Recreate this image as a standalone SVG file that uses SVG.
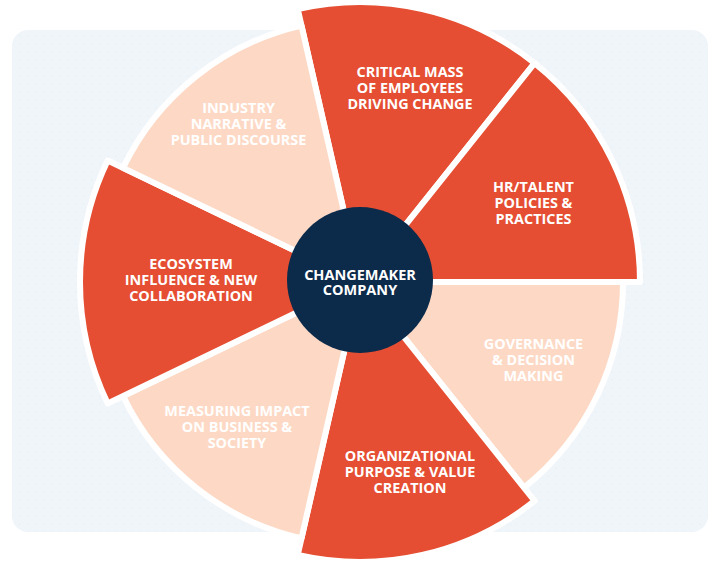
<svg xmlns="http://www.w3.org/2000/svg" width="720" height="563" viewBox="0 0 720 563">
<defs>
<pattern id="dots" width="8" height="8" patternUnits="userSpaceOnUse">
<circle cx="4" cy="4" r="0.7" fill="#e4ecf4"/>
</pattern>
<style>
.dark{fill:#e54e32;stroke:#ffffff;stroke-width:6;stroke-linejoin:round}
.light{fill:#fdd9c5;stroke:#ffffff;stroke-width:6;stroke-linejoin:round}
.lbl{font-family:"Open Sans","Noto Sans","DejaVu Sans",sans-serif;font-weight:700;font-size:14.4px;fill:#ffffff;text-anchor:middle}
.ctr{font-family:"Open Sans","Noto Sans","DejaVu Sans",sans-serif;font-weight:700;font-size:14.5px;fill:#ffffff;text-anchor:middle}
</style>
</defs>
<rect x="12" y="30" width="696" height="502" rx="16" fill="#f0f5fa"/>
<rect x="12" y="30" width="696" height="502" rx="16" fill="url(#dots)"/>
<g id="wedges">
<g id="critical-mass">
<path class="dark" d="M360,282 L297.69,9.02 A280,280 0 0 1 534.58,63.09 Z"/>
<text class="lbl"><tspan x="410" y="77">CRITICAL MASS</tspan><tspan x="410" y="93">OF EMPLOYEES</tspan><tspan x="410" y="109">DRIVING CHANGE</tspan></text>
</g>
<g id="hr-talent">
<path class="dark" d="M360,282 L534.58,63.09 A280,280 0 0 1 640,282 Z"/>
<text class="lbl"><tspan x="533.5" y="192">HR/TALENT</tspan><tspan x="533.5" y="208">POLICIES &amp;</tspan><tspan x="533.5" y="224">PRACTICES</tspan></text>
</g>
<g id="governance">
<path class="light" d="M360,282 L623,282 A263,263 0 0 1 523.98,487.62 Z"/>
<text class="lbl"><tspan x="533.5" y="349">GOVERNANCE</tspan><tspan x="533.5" y="365">&amp; DECISION</tspan><tspan x="533.5" y="381">MAKING</tspan></text>
</g>
<g id="organizational-purpose">
<path class="dark" d="M360,282 L534.58,500.91 A280,280 0 0 1 297.69,554.98 Z"/>
<text class="lbl"><tspan x="410" y="461">ORGANIZATIONAL</tspan><tspan x="410" y="477">PURPOSE &amp; VALUE</tspan><tspan x="410" y="493">CREATION</tspan></text>
</g>
<g id="measuring-impact">
<path class="light" d="M360,282 L301.48,538.41 A263,263 0 0 1 123.04,396.11 Z"/>
<text class="lbl"><tspan x="237" y="416">MEASURING IMPACT</tspan><tspan x="237" y="432">ON BUSINESS &amp;</tspan><tspan x="237" y="448">SOCIETY</tspan></text>
</g>
<g id="ecosystem">
<path class="dark" d="M360,282 L107.73,403.49 A280,280 0 0 1 107.73,160.51 Z"/>
<text class="lbl"><tspan x="191" y="269">ECOSYSTEM</tspan><tspan x="191" y="285">INFLUENCE &amp; NEW</tspan><tspan x="191" y="301">COLLABORATION</tspan></text>
</g>
<g id="industry-narrative">
<path class="light" d="M360,282 L123.04,167.89 A263,263 0 0 1 301.48,25.59 Z"/>
<text class="lbl"><tspan x="238.5" y="113">INDUSTRY</tspan><tspan x="238.5" y="129">NARRATIVE &amp;</tspan><tspan x="238.5" y="145">PUBLIC DISCOURSE</tspan></text>
</g>
</g>
<g id="connectors"></g>
<g id="changemaker-company">
<circle cx="360" cy="280" r="73" fill="#0c2b4b"/>
<text class="ctr"><tspan x="360" y="280">CHANGEMAKER</tspan><tspan x="360" y="295">COMPANY</tspan></text>
</g>
</svg>
